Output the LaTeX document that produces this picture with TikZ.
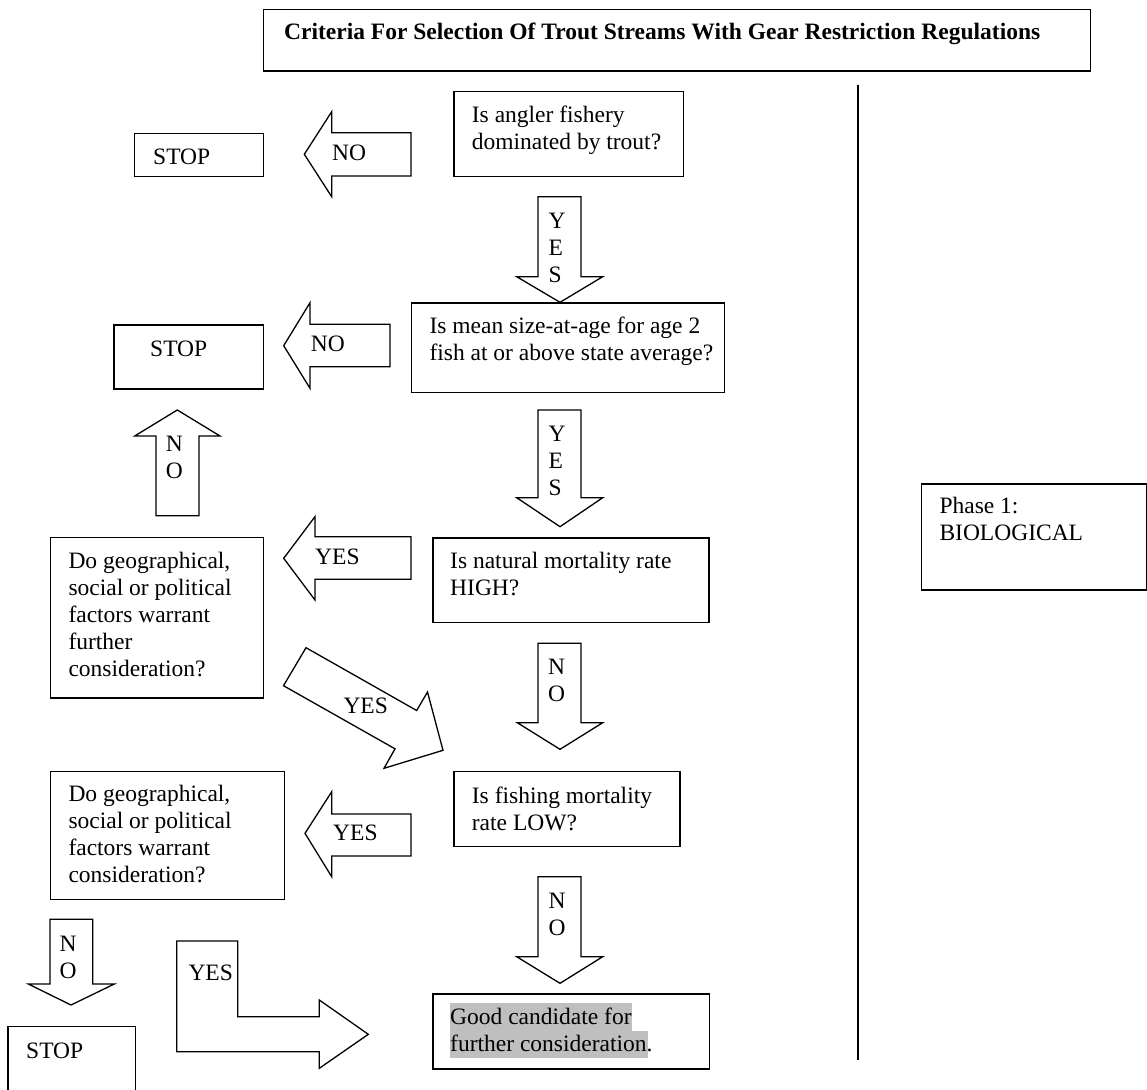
\documentclass[tikz,border=0pt]{standalone}
\usepackage{fontspec}
\usepackage{graphicx}
\setmainfont{Liberation Serif}
\tikzset{
  box/.style={draw, line width=1.3pt, inner sep=0pt, anchor=north west},
  blk/.style={draw, line width=1.3pt, line join=miter, fill=white},
  txt/.style={anchor=north west, inner sep=0pt, align=left, font=\fontsize{23.5}{27}\selectfont},
}
\newcommand{\fs}{\rule{0pt}{20pt}}
\begin{document}
\begin{tikzpicture}[x=1pt,y=-1pt]
\useasboundingbox (0,0) rectangle (1147,1089);
\begin{scope}
\clip (0,0) rectangle (1147,1089);
% boxes
\node[box, minimum width=827.4pt, minimum height=61.8pt] (title) at (262.6,8.6) {};
\node[box, minimum width=229.7pt, minimum height=85pt] (q1) at (453.3,90.7) {};
\node[box, minimum width=128.7pt, minimum height=43.3pt] (stop1) at (134,132.7) {};
\node[box, minimum width=312.7pt, minimum height=89.4pt] (q2) at (411,302.3) {};
\node[box, minimum width=149.4pt, minimum height=64pt] (stop2) at (113.3,324.3) {};
\node[box, minimum width=276pt, minimum height=84.4pt] (q3) at (432.3,537.3) {};
\node[box, minimum width=212.7pt, minimum height=160.6pt] (geo1) at (50,536.7) {};
\node[box, minimum width=226pt, minimum height=74.7pt] (q4) at (453.3,771) {};
\node[box, minimum width=233.7pt, minimum height=128.3pt] (geo2) at (50,770.7) {};
\node[box, minimum width=127.7pt, minimum height=90pt] (stop3) at (7.3,1026) {};
\node[box, minimum width=276.4pt, minimum height=75pt] (good) at (432.3,993.3) {};
\node[box, minimum width=225.3pt, minimum height=106pt] (phase) at (920.7,483.3) {};
% vertical divider
\coordinate (vtop) at (858,85);
\coordinate (vbot) at (858,1060);
\draw[line width=1.3pt] (vtop) -- (vbot);
% highlight
\fill[gray!50] (450,1002.7) rectangle (632.3,1030.7);
\fill[gray!50] (450,1030.7) rectangle (647.7,1057.7);
% texts
\node[anchor=base west, inner sep=0pt] (titletext) at (284,40) {\fontsize{23.5}{27}\selectfont\bfseries Criteria For Selection Of Trout Streams With Gear Restriction Regulations};
\node[txt] (t1) at (471.7,102.7) {\fs Is angler fishery\\dominated by trout?};
\node[txt] (ts1) at (153,144) {\fs STOP};
\node[txt] (t2) at (429.3,313.3) {\fs Is mean size-at-age for age 2\\fish at or above state average?};
\node[txt] (ts2) at (150,336) {\fs STOP};
\node[txt] (t3) at (450,548.3) {\fs Is natural mortality rate\\HIGH?};
\node[txt] (tg1) at (68.3,548.3) {\fs Do geographical,\\social or political\\factors warrant\\further\\consideration?};
\node[txt] (t4) at (471.7,783.3) {\fs Is fishing mortality\\rate LOW?};
\node[txt] (tg2) at (68.3,781.7) {\fs Do geographical,\\social or political\\factors warrant\\consideration?};
\node[txt] (ts3) at (26,1038.3) {\fs STOP};
\node[txt] (tgood) at (450,1004) {\fs Good candidate for\\further consideration.};
\node[txt] (tph) at (939.3,493.3) {\fs Phase 1:\\BIOLOGICAL};
% block arrows
% NO left 1
\draw[blk] (304.3,154.3) -- (331.7,111.7) -- (331.7,132.7) -- (411,132.7) -- (411,176) -- (331.7,176) -- (331.7,196.7) -- cycle;
\node[txt] (an1) at (332,140) {\fs NO};
% YES down 1
\draw[blk] (538,196.7) -- (581,196.7) -- (581,276.7) -- (602.7,276.7) -- (560,302.3) -- (516.7,276.7) -- (538,276.7) -- cycle;
\node[txt] (ay1) at (548.5,208) {\fs Y\\E\\S};
% NO left 2
\draw[blk] (283.7,345.7) -- (310,302.7) -- (310,324.3) -- (390,324.3) -- (390,366.7) -- (310,366.7) -- (310,388.3) -- cycle;
\node[txt] (an2) at (310.7,331.7) {\fs NO};
% NO up
\draw[blk] (177.3,410) -- (220,436) -- (199,436) -- (199,515.7) -- (156,515.7) -- (156,436) -- (134.7,436) -- cycle;
\node[txt] (an3) at (165.7,431.7) {\fs N\\O};
% YES down 2
\draw[blk] (538,410) -- (581,410) -- (581,497.7) -- (602.7,497.7) -- (560,526.7) -- (516.7,497.7) -- (538,497.7) -- cycle;
\node[txt] (ay2) at (548.5,421) {\fs Y\\E\\S};
% YES left 3
\draw[blk] (283.7,558.3) -- (315,516.6) -- (315,536.7) -- (411,536.7) -- (411,579.3) -- (315,579.3) -- (315,600) -- cycle;
\node[txt] (ay3) at (315,544) {\fs YES};
% YES diagonal
\draw[blk] (306,647.7) -- (416.7,710.5) -- (427.5,692) -- (443,750.3) -- (384,768.3) -- (395,748.8) -- (283.5,685.7) -- cycle;
\node[txt] (ay4) at (343.3,693.3) {\fs YES};
% NO down 3
\draw[blk] (538,643.3) -- (581,643.3) -- (581,722.7) -- (602.7,722.7) -- (560,749.3) -- (517.3,722.7) -- (538,722.7) -- cycle;
\node[txt] (an4) at (548,654.3) {\fs N\\O};
% YES left 4
\draw[blk] (305,833.3) -- (331.7,791.7) -- (331.7,814) -- (411,814) -- (411,856) -- (331.7,856) -- (331.7,876.7) -- cycle;
\node[txt] (ay5) at (333,820) {\fs YES};
% NO down 4 (geo2 -> stop3)
\draw[blk] (50,919.3) -- (92.7,919.3) -- (92.7,984) -- (114.3,984) -- (71,1005) -- (28.3,984) -- (50,984) -- cycle;
\node[txt] (an5) at (59.3,931) {\fs N\\O};
% YES L-shape
\draw[blk] (176.7,941) -- (237.7,941) -- (237.7,1016.7) -- (319.3,1016.7) -- (319.3,1000) -- (368.3,1034.3) -- (319.3,1068.3) -- (319.3,1051.7) -- (176.7,1051.7) -- cycle;
\node[txt] (ay6) at (188.3,960) {\fs YES};
% NO down 5
\draw[blk] (538,876.7) -- (581,876.7) -- (581,956.7) -- (602.7,956.7) -- (560,983.3) -- (516.7,956.7) -- (538,956.7) -- cycle;
\node[txt] (an6) at (548.3,888.3) {\fs N\\O};
\end{scope}
\end{tikzpicture}
\end{document}
